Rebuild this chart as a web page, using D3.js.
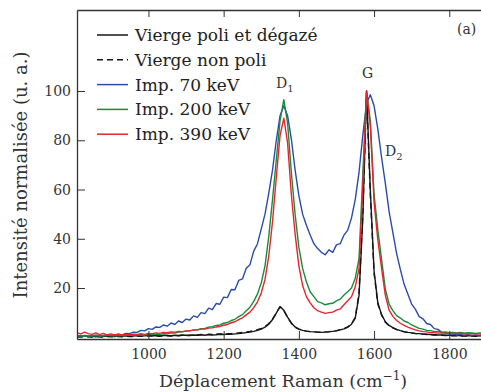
<!DOCTYPE html>
<html>
<head>
<meta charset="utf-8">
<script src="https://cdn.jsdelivr.net/npm/d3@7/dist/d3.min.js"></script>
<style>
  html, body { margin: 0; padding: 0; background: #fff; }
  svg { display: block; }
  text { font-family: "DejaVu Serif", serif; }
</style>
</head>
<body>
<svg id="chart" width="481" height="392"></svg>
<script>
// ---------------- data ----------------
const wavenumbers = [
  810, 820, 830, 840, 850, 860, 870, 880, 890, 900,
  910, 920, 930, 940, 950, 960, 970, 980, 990, 1000,
  1010, 1020, 1030, 1040, 1050, 1060, 1070, 1080, 1090, 1100,
  1110, 1120, 1130, 1140, 1150, 1160, 1170, 1180, 1190, 1200,
  1210, 1220, 1230, 1240, 1250, 1260, 1270, 1280, 1290, 1300,
  1310, 1320, 1330, 1340, 1350, 1360, 1370, 1380, 1390, 1400,
  1410, 1420, 1430, 1440, 1450, 1460, 1470, 1480, 1490, 1500,
  1510, 1520, 1530, 1540, 1550, 1560, 1570, 1580, 1590, 1600,
  1610, 1620, 1630, 1640, 1650, 1660, 1670, 1680, 1690, 1700,
  1710, 1720, 1730, 1740, 1750, 1760, 1770, 1780, 1790, 1800,
  1810, 1820, 1830, 1840, 1850, 1860, 1870, 1880, 1890, 1900
];

const viergePoli = [
  0.4, 0.3, 0.5, 0.3, 0.4, 0.2, 0.4, 0.3, 0.5, 0.4,
  0.3, 0.5, 0.4, 0.6, 0.4, 0.5, 0.7, 0.5, 0.6, 0.8,
  0.6, 0.7, 0.5, 0.8, 0.7, 0.6, 0.8, 0.7, 0.9, 0.8,
  0.7, 0.9, 0.8, 1.0, 0.8, 1.1, 0.9, 1.0, 1.2, 1.1,
  1.3, 1.2, 1.4, 1.5, 1.7, 1.9, 2.1, 2.4, 2.8, 3.3,
  4.1, 5.3, 7.2, 9.8, 12.5, 11.0, 8.2, 5.8, 4.2, 3.3,
  2.8, 2.5, 2.3, 2.2, 2.1, 2.0, 2.1, 2.2, 2.4, 2.6,
  3.0, 3.4, 4.1, 5.3, 7.8, 17, 48, 100, 60, 27,
  14, 9.2, 6.3, 4.8, 3.9, 3.2, 2.7, 2.3, 2.0, 1.8,
  1.6, 1.5, 1.3, 1.2, 1.1, 1.0, 0.9, 0.9, 0.8, 0.8,
  0.7, 0.8, 0.6, 0.7, 0.6, 0.7, 0.5, 0.6, 0.6, 0.5
];

const viergeNonPoli = [
  0.2, 0.1, 0.3, 0.2, 0.1, 0.3, 0.2, 0.1, 0.3, 0.2,
  0.2, 0.3, 0.2, 0.4, 0.3, 0.3, 0.5, 0.4, 0.4, 0.6,
  0.5, 0.5, 0.4, 0.6, 0.6, 0.5, 0.7, 0.6, 0.8, 0.7,
  0.8, 0.9, 0.9, 1.1, 1.0, 1.2, 1.1, 1.3, 1.4, 1.4,
  1.5, 1.5, 1.7, 1.8, 2.0, 2.2, 2.4, 2.7, 3.1, 3.6,
  4.4, 5.6, 7.4, 9.9, 12.3, 10.8, 8.0, 5.7, 4.1, 3.3,
  2.8, 2.5, 2.3, 2.2, 2.1, 2.1, 2.2, 2.3, 2.5, 2.7,
  3.1, 3.5, 4.2, 5.5, 8.1, 18, 50, 99, 58, 26,
  13.5, 9.0, 6.1, 4.7, 3.8, 3.1, 2.6, 2.2, 1.9, 1.7,
  1.5, 1.4, 1.3, 1.1, 1.0, 0.9, 0.9, 0.8, 0.7, 0.7,
  0.6, 0.6, 0.5, 0.6, 0.5, 0.5, 0.4, 0.5, 0.4, 0.4
];

const imp70 = [
  0.6, 0.4, 0.7, 0.5, 0.6, 0.8, 0.5, 0.7, 0.9, 0.8,
  1.0, 1.3, 1.0, 1.6, 1.5, 2.1, 2.0, 2.8, 2.6, 3.5,
  3.2, 4.2, 4.0, 5.0, 4.5, 5.8, 5.2, 6.6, 6.0, 7.4,
  7.0, 8.7, 8.1, 10.0, 9.6, 11.8, 11.2, 13.7, 13.4, 16.3,
  16.1, 19.4, 19.3, 23.1, 23.7, 28.0, 29.5, 35.0, 38.0, 44,
  50, 58.5, 68, 80, 90, 94, 90, 80.5, 68, 57.5,
  50, 45.5, 41.5, 38, 36, 34.5, 33.5, 35.5, 34.5, 37.5,
  38, 41.5, 43.5, 48.5, 56, 67, 82, 95, 98.5, 94,
  84.5, 73, 62.5, 51, 42.5, 34, 27.5, 21.5, 17.5, 13.5,
  11.3, 8.4, 7.5, 5.6, 5.2, 3.5, 3.2, 2.0, 1.9, 1.3,
  1.4, 0.9, 1.2, 0.8, 1.1, 0.7, 1.0, 0.6, 0.9, 0.7
];

const imp200 = [
  0.5, 0.7, 0.4, 0.6, 0.5, 0.7, 0.6, 0.5, 0.8, 0.6,
  0.7, 0.6, 0.8, 0.7, 0.9, 0.8, 0.9, 1.0, 0.9, 1.1,
  1.1, 1.3, 1.2, 1.5, 1.4, 1.8, 1.7, 2.1, 2.2, 2.5,
  2.6, 3.0, 3.0, 3.5, 3.6, 4.1, 4.3, 4.8, 5.0, 5.7,
  6.0, 6.8, 7.3, 8.4, 9.2, 10.8, 12.2, 14.6, 17.6, 22,
  29, 41, 56, 72, 88, 96.5, 87, 67, 50, 36.5,
  28, 22.5, 18.5, 16.5, 14.5, 14, 13.2, 13.6, 13.8, 14.8,
  15.5, 17.2, 18.5, 20, 24, 32, 66, 100, 88, 58,
  43.5, 31.5, 19.5, 13.5, 10.8, 8.8, 7.8, 6.6, 6.0, 5.0,
  4.3, 3.6, 3.3, 2.8, 2.7, 2.3, 2.4, 2.1, 2.2, 1.9,
  2.0, 1.8, 2.0, 1.7, 1.9, 1.8, 1.6, 1.8, 1.7, 1.6
];

const imp390 = [
  1.8, 1.4, 2.1, 1.5, 1.2, 1.8, 1.1, 1.6, 1.0, 1.4,
  0.9, 1.3, 1.0, 1.2, 1.0, 1.3, 1.1, 1.5, 1.2, 1.6,
  1.5, 1.8, 1.6, 2.0, 1.9, 2.2, 2.1, 2.4, 2.3, 2.6,
  2.6, 2.9, 3.0, 3.3, 3.3, 3.7, 3.8, 4.2, 4.4, 4.9,
  5.2, 5.9, 6.3, 7.2, 7.9, 9.1, 10.2, 12.0, 14.4, 18,
  23.5, 33, 47, 65, 82, 89, 79, 58, 42, 29,
  21, 16.5, 14, 12, 10.8, 10.2, 9.7, 10, 10.2, 11,
  11.5, 13.2, 14.8, 16.5, 20.5, 28, 61, 100, 86, 55,
  39.5, 28, 17, 11, 8.5, 6.8, 5.7, 4.8, 4.1, 3.5,
  3.0, 2.6, 2.3, 2.2, 1.9, 1.9, 1.7, 1.8, 1.6, 1.7,
  1.5, 1.7, 1.5, 1.6, 1.4, 1.5, 1.5, 1.3, 1.4, 1.4
];

const seriesNames = ["Vierge poli et dégazé", "Vierge non poli", "Imp. 70 keV", "Imp. 200 keV", "Imp. 390 keV"];
const seriesValues = [viergePoli, viergeNonPoli, imp70, imp200, imp390];
const seriesColors = ["#161616", "#161616", "#2a4ca6", "#1b8a3a", "#e8232c"];
const seriesDash = [null, "6,4", null, null, null];

const xTicks = [1000, 1200, 1400, 1600, 1800];
const yTicks = [20, 40, 60, 80, 100];

// ---------------- layout ----------------
const svg = d3.select("#chart");
const mLeft = 77, mRight = 485, mTop = 10, mBottom = 339;

const x = d3.scaleLinear().domain([810, 1895]).range([mLeft, mRight]);
const y = d3.scaleLinear().domain([-0.7, 132.9]).range([mBottom, mTop]);

svg.append("defs").append("clipPath").attr("id", "plotclip")
  .append("rect").attr("x", mLeft).attr("y", mTop)
  .attr("width", mRight - mLeft).attr("height", mBottom - mTop);

// curves
const line = d3.line()
  .x((d, i) => x(wavenumbers[i]))
  .y(d => y(d));

const plot = svg.append("g").attr("clip-path", "url(#plotclip)");
seriesValues.forEach((vals, k) => {
  plot.append("path")
    .datum(vals)
    .attr("d", line)
    .attr("fill", "none")
    .attr("stroke", seriesColors[k])
    .attr("stroke-width", 1.4)
    .attr("stroke-linejoin", "round")
    .attr("stroke-dasharray", seriesDash[k]);
});

// axes
const axisColor = "#333";
const fmt = d3.format("d");
const gL = svg.append("g").attr("transform", `translate(${mLeft},0)`)
  .call(d3.axisLeft(y).tickValues(yTicks).tickFormat(fmt).tickSize(-8).tickSizeOuter(0).tickPadding(6));
const gB = svg.append("g").attr("transform", `translate(0,${mBottom})`)
  .call(d3.axisBottom(x).tickValues(xTicks).tickFormat(fmt).tickSize(-8).tickSizeOuter(0).tickPadding(10));
const gT = svg.append("g").attr("transform", `translate(0,${mTop})`)
  .call(d3.axisTop(x).tickValues(xTicks).tickSize(-7).tickSizeOuter(0).tickFormat(""));

[gL, gB, gT].forEach(g => {
  g.selectAll(".domain").attr("stroke", axisColor).attr("stroke-width", 1.3);
  g.selectAll(".tick line").attr("stroke", axisColor).attr("stroke-width", 1);
  g.selectAll(".tick text")
    .attr("fill", "#333")
    .style("font-family", "'DejaVu Serif', serif")
    .style("font-size", "14px");
});

// axis titles
const xt = svg.append("text")
  .attr("x", 283).attr("y", 387)
  .attr("text-anchor", "middle")
  .attr("fill", "#333")
  .style("font-size", "17.5px");
xt.append("tspan").text("Déplacement Raman (cm");
xt.append("tspan").attr("dy", -7).style("font-size", "12px").text("−1");
xt.append("tspan").attr("dy", 7).text(")");

svg.append("text")
  .attr("transform", "translate(27,175) rotate(-90)")
  .attr("text-anchor", "middle")
  .attr("fill", "#333")
  .style("font-size", "18px")
  .text("Intensité normalisée (u. a.)");

// legend
const legend = svg.append("g");
seriesNames.forEach((name, k) => {
  const ly = 35 + k * 24.8;
  legend.append("line")
    .attr("x1", 97).attr("x2", 128).attr("y1", ly).attr("y2", ly)
    .attr("stroke", seriesColors[k]).attr("stroke-width", 1.5)
    .attr("stroke-dasharray", seriesDash[k]);
  legend.append("text")
    .attr("x", 135).attr("y", ly + 6)
    .attr("fill", "#222")
    .style("font-size", "17px")
    .text(name);
});

// peak annotations
function peakLabel(px, py, main, sub) {
  const t = svg.append("text").attr("x", px).attr("y", py)
    .attr("fill", "#333").style("font-size", "14px");
  t.append("tspan").text(main);
  if (sub) t.append("tspan").attr("dy", 4).style("font-size", "10px").text(sub);
}
peakLabel(276, 88, "D", "1");
peakLabel(362, 78, "G", null);
peakLabel(385, 156, "D", "2");

svg.append("text").attr("x", 457).attr("y", 34)
  .attr("fill", "#333").style("font-size", "14px").text("(a)");
</script>
</body>
</html>
